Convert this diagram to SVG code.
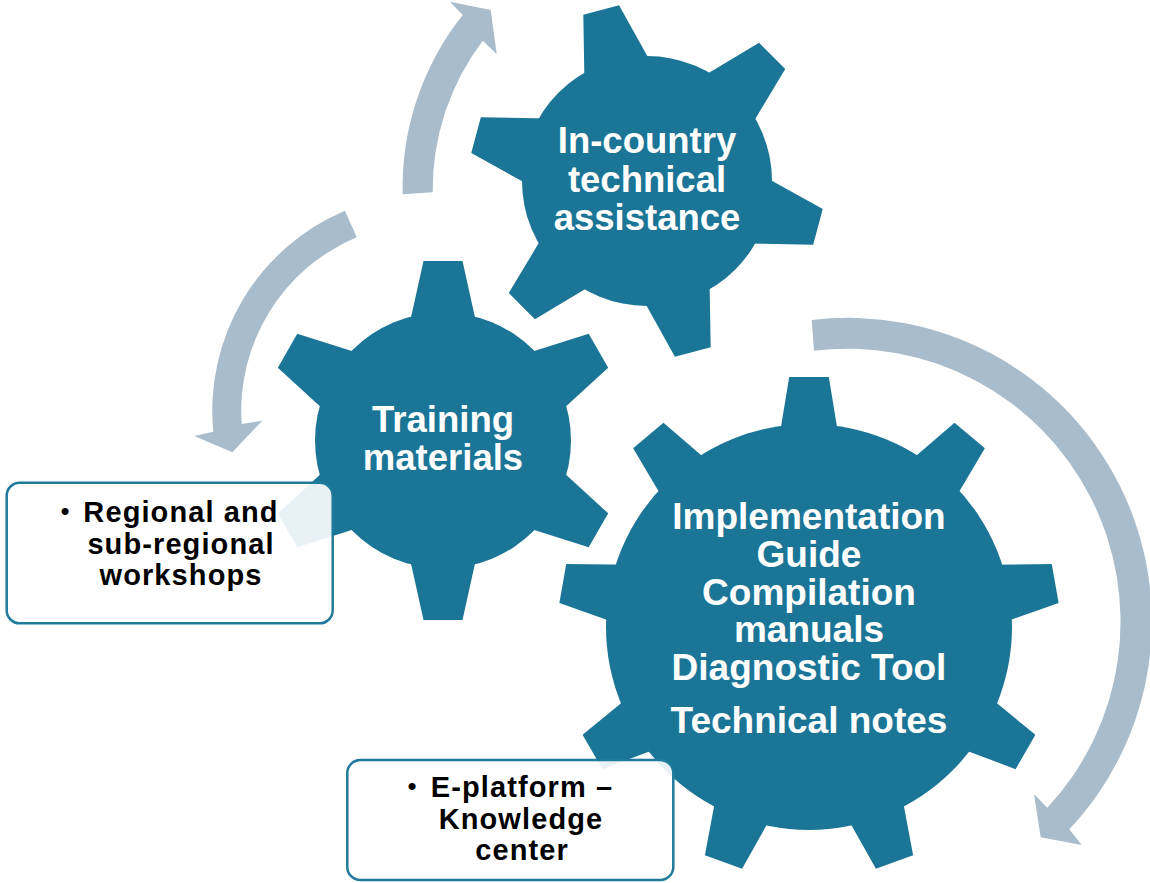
<svg xmlns="http://www.w3.org/2000/svg" xmlns:xlink="http://www.w3.org/1999/xlink" width="1150" height="883" viewBox="0 0 1150 883">
<style>
.gear{fill:#1B7597}
.arrow{fill:#A9BCCB}
.gt{font-family:"Liberation Sans",Arial,sans-serif;font-weight:bold;fill:#fff;text-anchor:middle}
.box{fill:#fff;fill-opacity:0.9;stroke:#1F7A9B;stroke-width:2.5}
.bt{font-family:"Liberation Sans",Arial,sans-serif;font-weight:bold;fill:#000;text-anchor:middle;font-size:29px;letter-spacing:1.1px}
.bul{font-family:"Liberation Sans",Arial,sans-serif;fill:#000;font-size:26px;text-anchor:middle}
</style>
<defs>
<polygon id="t1" points="-35.25,-110 35.25,-110 18.5,-177 -18.5,-177"/>
<polygon id="t2" points="-34.9,-110 34.9,-110 19.5,-179.5 -19.5,-179.5"/>
<polygon id="t3" points="-30.5,-185 30.5,-185 19.8,-250 -19.8,-250"/>
</defs>

<g id="connectors">
<path id="arrow1" class="arrow" d="M402.7,194.3 A277,277 0 0 1 462.7,15 L450,1.7 L490.7,10 L496.7,54 L482.7,40.7 A247,247 0 0 0 432.7,192.3 Z"/>
<path id="arrow2" class="arrow" d="M345,210.7 A217,217 0 0 0 213.3,431.7 L194.3,436 L232.3,452.3 L262.3,420.7 L241.7,424 A188,188 0 0 1 356.7,237.3 Z"/>
<path id="arrow3" class="arrow" d="M811.7,320 A303.5,303.5 0 0 1 1069.3,829.3 L1081.7,845 L1040.7,837.3 L1034,794 L1047.3,807.7 A273,273 0 0 0 814,350.7 Z"/>
</g>

<g id="gear-incountry">
<g class="gear" transform="translate(647,181)">
<circle r="125"/>
<use xlink:href="#t1" href="#t1" transform="rotate(-15)"/>
<use xlink:href="#t1" href="#t1" transform="rotate(45)"/>
<use xlink:href="#t1" href="#t1" transform="rotate(105)"/>
<use xlink:href="#t1" href="#t1" transform="rotate(165)"/>
<use xlink:href="#t1" href="#t1" transform="rotate(225)"/>
<use xlink:href="#t1" href="#t1" transform="rotate(285)"/>
</g>
<text class="gt" font-size="36.5" x="647" y="153">In-country</text>
<text class="gt" font-size="36.5" x="647" y="191.5">technical</text>
<text class="gt" font-size="36.5" x="647" y="230">assistance</text>
</g>

<g id="gear-training">
<g class="gear" transform="translate(443,440.5)">
<circle r="128"/>
<use xlink:href="#t2" href="#t2" transform="rotate(0)"/>
<use xlink:href="#t2" href="#t2" transform="rotate(60)"/>
<use xlink:href="#t2" href="#t2" transform="rotate(120)"/>
<use xlink:href="#t2" href="#t2" transform="rotate(180)"/>
<use xlink:href="#t2" href="#t2" transform="rotate(240)"/>
<use xlink:href="#t2" href="#t2" transform="rotate(300)"/>
</g>
<text class="gt" font-size="36.5" x="443" y="432">Training</text>
<text class="gt" font-size="36.5" x="443" y="470">materials</text>
</g>

<g id="gear-implementation">
<g class="gear" transform="translate(809,627)">
<circle r="203"/>
<use xlink:href="#t3" href="#t3" transform="rotate(0)"/>
<use xlink:href="#t3" href="#t3" transform="rotate(40)"/>
<use xlink:href="#t3" href="#t3" transform="rotate(80)"/>
<use xlink:href="#t3" href="#t3" transform="rotate(120)"/>
<use xlink:href="#t3" href="#t3" transform="rotate(160)"/>
<use xlink:href="#t3" href="#t3" transform="rotate(200)"/>
<use xlink:href="#t3" href="#t3" transform="rotate(240)"/>
<use xlink:href="#t3" href="#t3" transform="rotate(280)"/>
<use xlink:href="#t3" href="#t3" transform="rotate(320)"/>
</g>
<text class="gt" font-size="37" x="809" y="529">Implementation</text>
<text class="gt" font-size="37" x="809" y="567">Guide</text>
<text class="gt" font-size="37" x="809" y="605">Compilation</text>
<text class="gt" font-size="37" x="809" y="642">manuals</text>
<text class="gt" font-size="37" x="809" y="680">Diagnostic Tool</text>
<text class="gt" font-size="37" x="809" y="733">Technical notes</text>
</g>

<g id="box-workshops">
<rect class="box" x="6.7" y="482.7" width="326" height="140.6" rx="13"/>
<text class="bul" x="65" y="520">•</text>
<text class="bt" x="181" y="522">Regional and</text>
<text class="bt" x="181" y="553.5">sub-regional</text>
<text class="bt" x="181" y="585">workshops</text>
</g>

<g id="box-eplatform">
<rect class="box" x="347.3" y="760" width="326" height="120" rx="13"/>
<text class="bul" x="412" y="795">•</text>
<text class="bt" x="522" y="797">E-platform –</text>
<text class="bt" x="521" y="828.5">Knowledge</text>
<text class="bt" x="522" y="860">center</text>
</g>
</svg>
